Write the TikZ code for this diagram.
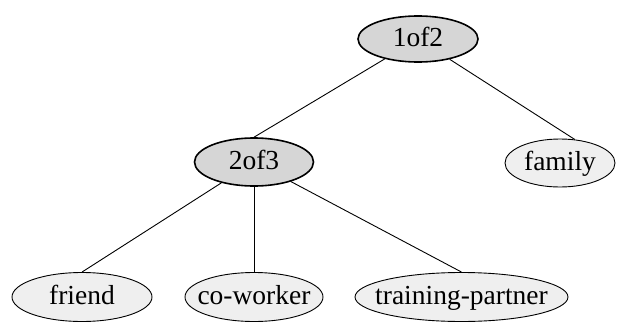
\documentclass[tikz,border=0pt]{standalone}
\usepackage{fontspec}
\setmainfont{Liberation Serif}
\usetikzlibrary{shapes.geometric}
% zero-width label box, so the ellipse size comes only from the minimum sizes
\newcommand\lbl[1]{\makebox[0pt][c]{#1}}
\definecolor{gatefill}{HTML}{D6D6D6}
\definecolor{leaffill}{HTML}{EFEFEF}
\tikzset{
  basenode/.style={ellipse, draw=black, inner sep=0pt, minimum height=46pt,
    text height=19pt, text depth=4pt, font=\fontsize{27.5}{30}\selectfont},
  gate/.style={basenode, fill=gatefill, line width=1.6pt},
  leaf/.style={basenode, fill=leaffill, line width=0.9pt},
  link/.style={draw=black, line width=0.9pt}
}
\begin{document}
\begin{tikzpicture}[x=1pt,y=1pt]
  \useasboundingbox (0,0) rectangle (637,325);
  % gates
  \node[gate, minimum width=120pt] (root) at (418,286) {\lbl{1of2}};
  \node[gate, minimum width=119pt, minimum height=48pt] (two) at (254,163) {\lbl{2of3}};
  % leaves
  \node[leaf, minimum width=110pt, minimum height=48pt] (family) at (560,162) {\lbl{family}};
  \node[leaf, minimum width=140pt, minimum height=49pt] (friend) at (82,28) {\lbl{friend}};
  \node[leaf, minimum width=138pt, minimum height=49pt] (cow) at (254,28) {\lbl{co-worker}};
  \node[leaf, minimum width=213pt, minimum height=49pt] (train) at (461.5,28) {\lbl{training-partner}};
  % connectors, each aimed at the upper rim of its child
  \draw[link] (root) -- (two.north);
  \draw[link] (root) -- (family.58);
  \draw[link] (two) -- (friend.north);
  \draw[link] (two) -- (cow.north);
  \draw[link] (two) -- (train.north);
\end{tikzpicture}
\end{document}
